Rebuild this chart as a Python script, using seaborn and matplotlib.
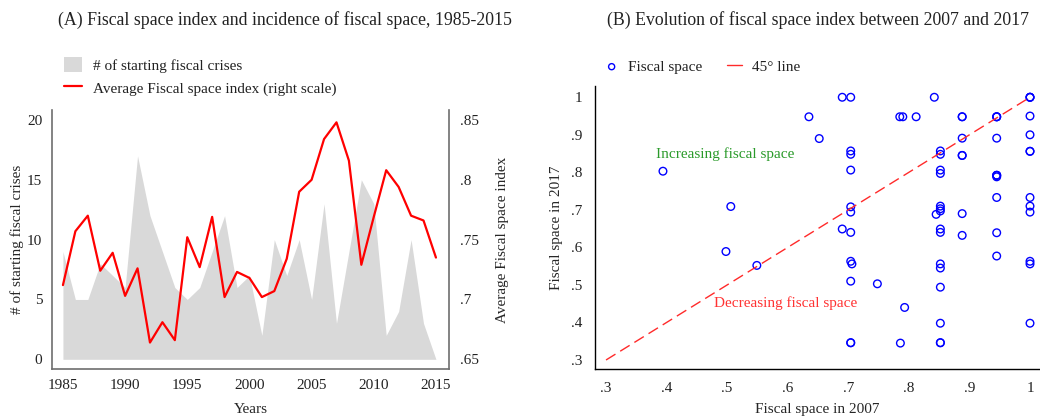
import numpy as np
import pandas as pd
import matplotlib
matplotlib.use("Agg")
import matplotlib.pyplot as plt
import seaborn as sns

# Panel A data
years = list(range(1985, 2016))
crises = [9, 5, 5, 8, 7, 6, 17, 12, 9, 6, 5, 6, 9, 12, 6, 7,
          2, 10, 7, 10, 5, 13, 3, 9, 15, 13, 2, 4, 10, 3, 0]
fs_index = [0.712, 0.757, 0.770, 0.724, 0.739, 0.703, 0.726, 0.664, 0.681, 0.666,
            0.752, 0.727, 0.769, 0.702, 0.723, 0.718, 0.702, 0.707, 0.734, 0.790,
            0.800, 0.834, 0.848, 0.816, 0.729, 0.769, 0.808, 0.794, 0.770, 0.766, 0.735]

# Panel B data
fs_2007 = [0.394, 0.506, 0.498, 0.549, 0.635, 0.652, 0.690, 0.704, 0.842, 1.0, 1.0, 1.0,
           0.785, 0.790, 0.812, 0.888, 0.888, 0.945, 0.945, 0.945, 1.0,
           0.888, 0.945, 1.0, 0.704, 0.704, 0.852, 0.852, 0.888, 0.888, 1.0, 1.0,
           0.704, 0.852, 0.852, 0.945, 0.945, 0.945, 0.945, 0.945, 1.0,
           0.704, 0.704, 0.852, 0.852, 0.852, 0.845, 0.888, 1.0, 1.0,
           0.690, 0.704, 0.852, 0.852, 0.888, 0.945, 0.945,
           0.704, 0.706, 0.852, 0.852, 1.0, 1.0,
           0.704, 0.748, 0.852, 0.793, 0.852, 1.0, 0.704, 0.704, 0.786, 0.852, 0.852]
fs_2017 = [0.803, 0.709, 0.589, 0.552, 0.948, 0.890, 1.0, 1.0, 1.0, 1.0, 1.0, 1.0,
           0.948, 0.948, 0.948, 0.948, 0.948, 0.948, 0.948, 0.948, 0.950,
           0.891, 0.891, 0.900, 0.857, 0.848, 0.857, 0.848, 0.845, 0.845, 0.856, 0.856,
           0.806, 0.806, 0.797, 0.792, 0.792, 0.792, 0.788, 0.733, 0.733,
           0.708, 0.694, 0.710, 0.703, 0.697, 0.688, 0.690, 0.710, 0.694,
           0.649, 0.640, 0.649, 0.640, 0.632, 0.639, 0.577,
           0.563, 0.556, 0.556, 0.545, 0.563, 0.556,
           0.510, 0.503, 0.494, 0.440, 0.398, 0.398, 0.346, 0.346, 0.345, 0.346, 0.346]
line45 = [0.3, 1.0]

left_ticks = [0, 5, 10, 15, 20]
right_ticks = [0.65, 0.7, 0.75, 0.8, 0.85]
right_labels = [".65", ".7", ".75", ".8", ".85"]
year_ticks = [1985, 1990, 1995, 2000, 2005, 2010, 2015]
b_ticks = [0.3, 0.4, 0.5, 0.6, 0.7, 0.8, 0.9, 1.0]
b_labels = [".3", ".4", ".5", ".6", ".7", ".8", ".9", "1"]

sns.set_theme(style="white")
plt.rcParams["font.family"] = ["Liberation Serif", "DejaVu Serif"]
plt.rcParams["text.color"] = "#222222"
plt.rcParams["xtick.color"] = "#222222"
plt.rcParams["ytick.color"] = "#222222"

fs = 11
fig = plt.figure(figsize=(10.4, 4.16), dpi=100)

# ---------------- Panel A ----------------
ax1 = fig.add_axes([52 / 1040, 47 / 416, 397 / 1040, 259 / 416])
ax2 = ax1.twinx()
df_a = pd.DataFrame({"year": years, "crises": crises, "index": fs_index})

ax1.fill_between(df_a["year"], 0, df_a["crises"], color="#d9d9d9", lw=0,
                 label="# of starting fiscal crises")
sns.lineplot(data=df_a, x="year", y="index", ax=ax2, color="red", lw=1.6,
             label="Average Fiscal space index (right scale)", legend=False)

ax1.set_xlim(1984.12, 2016.05)
ax1.set_ylim(-0.81, 20.83)
ax2.set_ylim(0.6419, 0.8583)
ax1.set_xticks(year_ticks)
ax1.set_yticks(left_ticks)
ax2.set_yticks(right_ticks)
ax2.set_yticklabels(right_labels)
ax1.tick_params(axis="both", length=0, labelsize=fs, pad=7)
ax2.tick_params(axis="y", length=0, labelsize=fs, pad=8)
ax1.set_xlabel("Years", fontsize=fs, labelpad=8)
ax1.set_ylabel("# of starting fiscal crises", fontsize=fs, labelpad=2)
ax2.set_ylabel("Average Fiscal space index", fontsize=fs, labelpad=12)
ax2.grid(False)
ax1.grid(False)
for ax in (ax1, ax2):
    ax.spines["top"].set_visible(False)
    for s in ("left", "right", "bottom"):
        ax.spines[s].set_color("#6e6e6e")
        ax.spines[s].set_linewidth(1.2)
ax1.spines["right"].set_visible(False)
ax2.spines["left"].set_visible(False)
ax2.spines["bottom"].set_visible(False)

h1, l1 = ax1.get_legend_handles_labels()
h2, l2 = ax2.get_legend_handles_labels()
fig.legend(h1 + h2, l1 + l2, loc="upper left", bbox_to_anchor=(64 / 1040, 1 - 57 / 416),
           frameon=False, fontsize=fs, handlelength=1.15, handleheight=1.15,
           handletextpad=0.75, labelspacing=0.45, borderaxespad=0, borderpad=0)

fig.text(285 / 1040, 1 - 20 / 416, "(A) Fiscal space index and incidence of fiscal space, 1985-2015",
         ha="center", va="center", fontsize=12.8)

# ---------------- Panel B ----------------
ax3 = fig.add_axes([595 / 1040, 47 / 416, 445 / 1040, 283 / 416])
df_b = pd.DataFrame({"fs2007": fs_2007, "fs2017": fs_2017})
df_l = pd.DataFrame({"x": line45, "y": line45})

sns.scatterplot(data=df_b, x="fs2007", y="fs2017", ax=ax3, marker="o",
                facecolor="none", edgecolor="blue", linewidth=1.0, s=30,
                label="Fiscal space", legend=False)
sns.lineplot(data=df_l, x="x", y="y", ax=ax3, color="#ff2a2a", lw=1.0,
             dashes=False, label="45° line", legend=False)
ax3.lines[-1].set_dashes((8, 4))

ax3.set_xlim(0.2818, 1.0165)
ax3.set_ylim(0.276, 1.030)
ax3.set_xticks(b_ticks)
ax3.set_xticklabels(b_labels)
ax3.set_yticks(b_ticks)
ax3.set_yticklabels(b_labels)
ax3.tick_params(axis="both", length=0, labelsize=fs, pad=9)
ax3.set_xlabel("Fiscal space in 2007", fontsize=fs, labelpad=6)
ax3.set_ylabel("Fiscal space in 2017", fontsize=fs, labelpad=6)
ax3.grid(False)
ax3.spines["top"].set_visible(False)
ax3.spines["right"].set_visible(False)
for s in ("left", "bottom"):
    ax3.spines[s].set_color("black")
    ax3.spines[s].set_linewidth(1.0)

ax3.text(0.382, 0.849, "Increasing fiscal space", color="#2a9a2a", fontsize=fs,
         ha="left", va="center")
ax3.text(0.478, 0.451, "Decreasing fiscal space", color="#ff3333", fontsize=fs,
         ha="left", va="center")

leg = ax3.legend(loc="upper left", bbox_to_anchor=(604 / 1040, 1 - 60 / 416),
                 bbox_transform=fig.transFigure, ncol=2, frameon=False, fontsize=fs,
                 handlelength=1.0, handletextpad=0.6, columnspacing=1.6,
                 borderaxespad=0, borderpad=0, markerscale=0.8)
leg.get_lines()[0].set_linestyle("-")

fig.text(818 / 1040, 1 - 20 / 416, "(B) Evolution of fiscal space index between 2007 and 2017",
         ha="center", va="center", fontsize=12.8)

fig.savefig("out.png", dpi=100)
